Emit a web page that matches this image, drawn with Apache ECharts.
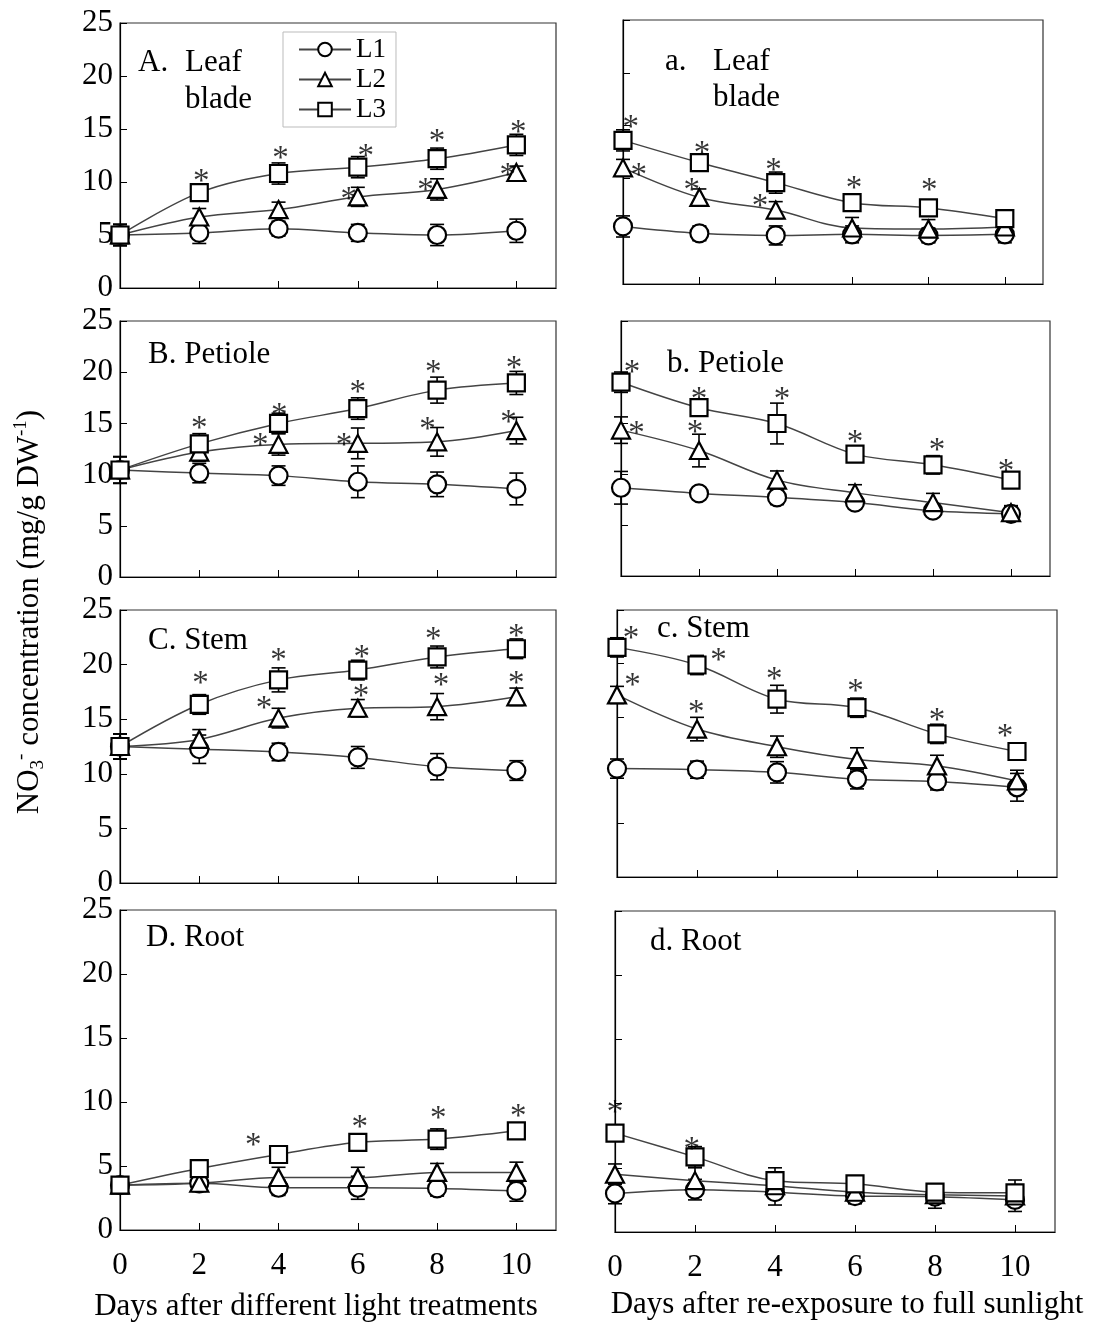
<!DOCTYPE html>
<html><head><meta charset="utf-8">
<script src="https://cdn.jsdelivr.net/npm/echarts@6/dist/echarts.min.js"></script>
<style>html,body{margin:0;padding:0;background:#fff}#c{width:1098px;height:1327px}</style>
</head><body><div id="c"></div>
<script>
// ---------------- data ----------------
const days = [0, 2, 4, 6, 8, 10];
const xTicks = [0, 2, 4, 6, 8, 10];
const seriesNames = ['L1', 'L2', 'L3'];

// A. Leaf blade (light treatments)
const A_L1 = [5.0, 5.2, 5.6, 5.2, 5.0, 5.4];
const A_L2 = [5.0, 6.7, 7.4, 8.6, 9.3, 10.9];
const A_L3 = [5.0, 9.0, 10.8, 11.4, 12.2, 13.5];
const A_L1_se = [1.0, 1.0, 0.7, 0.8, 1.0, 1.1];
const A_L2_se = [1.0, 0.8, 0.7, 0.9, 1.0, 0.6];
const A_L3_se = [1.0, 0.8, 1.0, 1.0, 1.0, 1.0];
const A_stars = [[2.05, 10.7], [4.05, 12.9], [6.2, 13.1], [8.0, 14.5], [10.05, 15.35], [5.77, 9.0], [7.71, 9.9], [9.78, 11.3]];

// a. Leaf blade (re-exposure)
const a_L1 = [5.45, 4.8, 4.6, 4.7, 4.6, 4.7];
const a_L2 = [11.0, 8.2, 7.0, 5.3, 5.2, 5.4];
const a_L3 = [13.6, 11.5, 9.6, 7.7, 7.2, 6.2];
const a_L1_se = [1.0, 0.7, 0.9, 0.8, 0.7, 0.8];
const a_L2_se = [0.8, 0.8, 0.8, 1.0, 0.9, 0.4];
const a_L3_se = [1.0, 0.7, 1.0, 0.5, 0.5, 0.8];
const a_stars = [[0.2, 15.5], [2.07, 13.0], [3.94, 11.45], [6.05, 9.7], [8.02, 9.55], [0.41, 11.0], [1.8, 9.55], [3.59, 8.05]];

// B. Petiole
const B_L1 = [10.45, 10.15, 9.9, 9.3, 9.05, 8.6];
const B_L2 = [10.45, 12.2, 12.95, 13.05, 13.2, 14.3];
const B_L3 = [10.45, 13.0, 15.0, 16.45, 18.25, 18.95];
const B_L1_se = [1.3, 0.95, 0.95, 1.55, 1.2, 1.55];
const B_L2_se = [1.3, 0.9, 1.05, 1.5, 1.4, 1.3];
const B_L3_se = [1.3, 1.0, 1.0, 1.05, 1.27, 1.13];
const B_stars = [[2.0, 15.25], [4.02, 16.45], [6.0, 18.7], [7.9, 20.7], [9.94, 21.1], [3.54, 13.55], [5.65, 13.55], [7.76, 15.15], [9.8, 15.8]];

// b. Petiole
const b_L1 = [8.65, 8.1, 7.7, 7.2, 6.4, 6.1];
const b_L2 = [14.3, 12.3, 9.4, 8.15, 7.2, 6.2];
const b_L3 = [19.0, 16.5, 14.95, 11.95, 10.9, 9.4];
const b_L1_se = [1.6, 0.5, 0.7, 0.6, 0.5, 0.7];
const b_L2_se = [1.3, 1.6, 0.9, 0.8, 0.9, 0.7];
const b_L3_se = [1.0, 0.8, 2.0, 0.5, 0.9, 0.4];
const b_stars = [[0.28, 20.65], [2.0, 18.05], [4.13, 18.05], [6.0, 13.8], [8.1, 13.0], [9.87, 10.9], [0.4, 14.7], [1.9, 14.8]];

// C. Stem
const C_L1 = [12.5, 12.25, 12.0, 11.5, 10.65, 10.3];
const C_L2 = [12.5, 13.15, 15.1, 16.0, 16.15, 17.05];
const C_L3 = [12.5, 16.35, 18.6, 19.5, 20.7, 21.45];
const C_L1_se = [1.15, 1.3, 0.8, 1.0, 1.2, 0.9];
const C_L2_se = [1.15, 0.9, 0.9, 0.8, 1.2, 0.8];
const C_L3_se = [1.15, 0.9, 1.1, 0.9, 1.0, 0.9];
const C_stars = [[2.03, 18.95], [4.0, 21.0], [6.1, 21.3], [7.9, 23.0], [10.0, 23.2], [3.63, 16.6], [6.08, 17.7], [8.1, 18.75], [10.0, 18.95]];

// c. Stem
const c_L1 = [10.15, 10.05, 9.8, 9.15, 8.95, 8.4];
const c_L2 = [17.05, 13.85, 12.2, 11.0, 10.4, 9.0];
const c_L3 = [21.5, 19.85, 16.65, 15.85, 13.4, 11.75];
const c_L1_se = [0.9, 0.8, 1.0, 0.9, 0.8, 1.3];
const c_L2_se = [0.8, 1.1, 1.0, 1.1, 1.0, 1.0];
const c_L3_se = [0.9, 0.9, 1.3, 0.9, 0.9, 0.4];
const c_stars = [[0.35, 23.0], [2.54, 20.95], [3.93, 19.2], [5.96, 18.0], [8.0, 15.3], [9.7, 13.8], [0.39, 18.6], [1.98, 16.1]];

// D. Root
const D_L1 = [3.5, 3.65, 3.3, 3.3, 3.25, 3.05];
const D_L2 = [3.5, 3.65, 4.1, 4.1, 4.5, 4.5];
const D_L3 = [3.5, 4.8, 5.9, 6.85, 7.1, 7.75];
const D_L1_se = [0.6, 0.65, 0.6, 0.9, 0.6, 0.8];
const D_L2_se = [0.6, 0.5, 0.8, 0.8, 0.7, 0.8];
const D_L3_se = [0.6, 0.5, 0.3, 0.2, 0.8, 0.5];
const D_stars = [[3.36, 7.15], [6.05, 8.6], [8.03, 9.25], [10.05, 9.4]];

// d. Root
const d_L1 = [3.0, 3.3, 3.1, 2.8, 2.75, 2.5];
const d_L2 = [4.5, 4.0, 3.6, 3.1, 2.9, 2.8];
const d_L3 = [7.7, 5.85, 4.0, 3.75, 3.1, 3.05];
const d_L1_se = [0.8, 0.8, 1.0, 0.6, 0.9, 0.9];
const d_L2_se = [0.8, 1.0, 0.5, 0.5, 0.5, 0.5];
const d_L3_se = [0.6, 0.8, 1.0, 0.6, 0.5, 1.0];
const d_stars = [[0.0, 9.85], [1.92, 7.0]];

// ---------------- layout ----------------
const FONT = '"Liberation Serif", "Times New Roman", serif';
const panels = [
  { g: { left: 120, top: 23, width: 436, height: 265 }, v: [A_L1, A_L2, A_L3], e: [A_L1_se, A_L2_se, A_L3_se], s: A_stars, yl: true, xl: false },
  { g: { left: 623, top: 20, width: 420, height: 264 }, v: [a_L1, a_L2, a_L3], e: [a_L1_se, a_L2_se, a_L3_se], s: a_stars, yl: false, xl: false },
  { g: { left: 120, top: 321, width: 436, height: 256 }, v: [B_L1, B_L2, B_L3], e: [B_L1_se, B_L2_se, B_L3_se], s: B_stars, yl: true, xl: false },
  { g: { left: 621, top: 321, width: 429, height: 255 }, v: [b_L1, b_L2, b_L3], e: [b_L1_se, b_L2_se, b_L3_se], s: b_stars, yl: false, xl: false },
  { g: { left: 120, top: 610, width: 436, height: 273 }, v: [C_L1, C_L2, C_L3], e: [C_L1_se, C_L2_se, C_L3_se], s: C_stars, yl: true, xl: false },
  { g: { left: 617, top: 610, width: 440, height: 267 }, v: [c_L1, c_L2, c_L3], e: [c_L1_se, c_L2_se, c_L3_se], s: c_stars, yl: false, xl: false },
  { g: { left: 120, top: 910, width: 436, height: 320 }, v: [D_L1, D_L2, D_L3], e: [D_L1_se, D_L2_se, D_L3_se], s: D_stars, yl: true, xl: true },
  { g: { left: 615, top: 911, width: 440, height: 321 }, v: [d_L1, d_L2, d_L3], e: [d_L1_se, d_L2_se, d_L3_se], s: d_stars, yl: false, xl: true }
];
const symbols = ['circle', 'triangle', 'rect'];
const symbolSizes = [18, [18, 17], 17];

const grid = [], xAxis = [], yAxis = [], series = [];
panels.forEach((p, i) => {
  grid.push(Object.assign({ show: true, borderColor: '#333', borderWidth: 1.2, containLabel: false }, p.g));
  xAxis.push({
    type: 'value', gridIndex: i, min: 0, max: 11,
    axisLine: { show: true, lineStyle: { color: '#000', width: 1.2 } },
    axisTick: { show: true, inside: true, length: 7, customValues: xTicks, lineStyle: { color: '#000' } },
    axisLabel: { show: p.xl, customValues: xTicks, fontSize: 31, fontFamily: FONT, color: '#000', margin: 20 },
    splitLine: { show: false }
  });
  yAxis.push({
    type: 'value', gridIndex: i, min: 0, max: 25, interval: 5,
    axisLine: { show: true, lineStyle: { color: '#000', width: 1.2 } },
    axisTick: { show: true, inside: true, length: 7, lineStyle: { color: '#000' } },
    axisLabel: { show: p.yl, fontSize: 31, fontFamily: FONT, color: '#000', margin: 7 },
    splitLine: { show: false }
  });
  // error bars
  const errData = [];
  p.v.forEach((vals, k) => vals.forEach((y, j) => errData.push([days[j], y, p.e[k][j]])));
  series.push({
    type: 'custom', xAxisIndex: i, yAxisIndex: i, z: 1, silent: true,
    encode: { x: 0, y: 1 }, data: errData, clip: false,
    renderItem: function (params, api) {
      const x = api.value(0), y = api.value(1), e = api.value(2);
      const t = api.coord([x, y + e]), b = api.coord([x, y - e]);
      const hw = 7, st = { stroke: '#000', lineWidth: 1.6 };
      return { type: 'group', children: [
        { type: 'line', shape: { x1: t[0], y1: t[1], x2: b[0], y2: b[1] }, style: st },
        { type: 'line', shape: { x1: t[0] - hw, y1: t[1], x2: t[0] + hw, y2: t[1] }, style: st },
        { type: 'line', shape: { x1: b[0] - hw, y1: b[1], x2: b[0] + hw, y2: b[1] }, style: st }
      ] };
    }
  });
  p.v.forEach((vals, k) => {
    series.push({
      type: 'line', name: seriesNames[k], xAxisIndex: i, yAxisIndex: i, z: 2,
      data: vals.map((y, j) => [days[j], y]),
      smooth: 0.35, symbol: symbols[k], symbolSize: symbolSizes[k], showSymbol: true,
      itemStyle: { color: '#fff', borderColor: '#000', borderWidth: 2.2 },
      lineStyle: { color: '#444', width: 1.5 },
      emphasis: { disabled: true }
    });
  });
  series.push({
    type: 'scatter', xAxisIndex: i, yAxisIndex: i, z: 3, silent: true,
    data: p.s, symbolSize: 1, itemStyle: { color: 'rgba(0,0,0,0)' },
    label: { show: true, formatter: '*', position: 'inside', fontSize: 33, fontFamily: FONT, color: '#000', offset: [0, 8] }
  });
});

function txt(x, y, s, size, align) {
  return { type: 'text', x: x, y: y, silent: true, style: { text: s, font: (size || 31) + 'px ' + FONT, fill: '#000', align: align || 'left', verticalAlign: 'middle' } };
}
const graphic = [
  txt(138, 63, 'A.'), txt(185, 63, 'Leaf'), txt(185, 100, 'blade'),
  txt(665, 62, 'a.'), txt(713, 62, 'Leaf'), txt(713, 98, 'blade'),
  txt(148, 355, 'B. Petiole'),
  txt(667, 364, 'b. Petiole'),
  txt(148, 641, 'C. Stem'),
  txt(657, 629, 'c. Stem'),
  txt(146, 938, 'D. Root'),
  txt(650, 942, 'd. Root'),
  txt(316, 1307, 'Days after different light treatments', 31, 'center'),
  txt(847, 1305, 'Days after re-exposure to full sunlight', 31, 'center'),
  {
    type: 'text', x: 30, y: 612, rotation: Math.PI / 2, silent: true,
    style: {
      text: '{n|NO}{sb|3}{sp|-}{n| concentration (mg/g DW}{sp|-1}{n|)}',
      align: 'center', verticalAlign: 'middle', fill: '#000',
      rich: {
        n: { fontSize: 31, fontFamily: FONT, lineHeight: 36, fill: '#000' },
        sb: { fontSize: 19, fontFamily: FONT, lineHeight: 18, verticalAlign: 'bottom', fill: '#000' },
        sp: { fontSize: 19, fontFamily: FONT, lineHeight: 20, verticalAlign: 'top', fill: '#000' }
      }
    }
  }
];

const chart = echarts.init(document.getElementById('c'), null, { renderer: 'canvas' });
chart.setOption({
  animation: false,
  backgroundColor: '#fff',
  grid: grid, xAxis: xAxis, yAxis: yAxis, series: series, graphic: graphic,
  legend: {
    data: seriesNames, orient: 'vertical', left: 283, top: 32,
    itemWidth: 52, itemHeight: 17, itemGap: 3,
    padding: [4, 10, 4, 15], borderColor: '#bbb', borderWidth: 1,
    textStyle: { fontSize: 27, fontFamily: FONT, color: '#000', lineHeight: 25 },
    selectedMode: false
  }
});
</script></body></html>
